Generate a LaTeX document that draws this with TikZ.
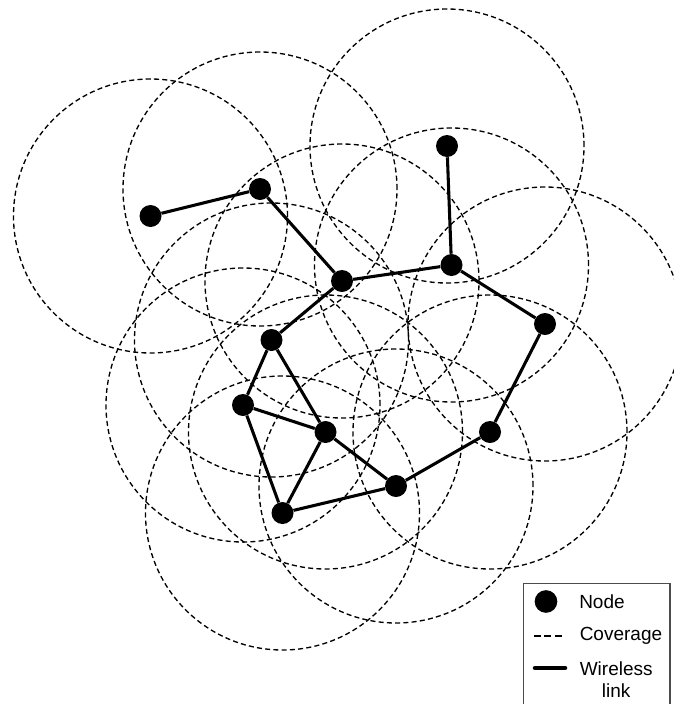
\documentclass[tikz,border=0pt]{standalone}
\usepackage{fontspec}
\setmainfont{Liberation Sans}
\usetikzlibrary{backgrounds}
\tikzset{
  dot/.style={circle,fill=black,draw=none,inner sep=0pt,minimum size=16.5pt},
  cov/.style={draw=black,line width=1pt,dash pattern=on 3.8pt off 2.4pt},
  wlink/.style={draw=black,line width=2.3pt},
  legtext/.style={anchor=west,inner sep=0pt,font=\fontsize{14.25}{17}\selectfont},
}
\begin{document}
\begin{tikzpicture}[x=0.75pt,y=-0.75pt]
\useasboundingbox (0,0) rectangle (674,704);
% nodes
\node[dot] (n1) at (150.5,216) {};
\node[dot] (n2) at (260,189) {};
\node[dot] (n3) at (447,146) {};
\node[dot] (n4) at (342,281) {};
\node[dot] (n5) at (451.5,265) {};
\node[dot] (n6) at (545,324) {};
\node[dot] (n7) at (271.5,340) {};
\node[dot] (n8) at (243,405) {};
\node[dot] (n9) at (325.5,432) {};
\node[dot] (n10) at (490,432) {};
\node[dot] (n11) at (396,486) {};
\node[dot] (n12) at (282.5,513) {};
\begin{scope}[on background layer]
  \fill[white] (0,0) rectangle (674,704);
  \foreach \n in {n1,n2,n3,n4,n5,n6,n7,n8,n9,n10,n11,n12}
    \draw[cov] (\n.center) circle[radius=102.75pt];
  \draw[wlink] (n1) -- (n2);
  \draw[wlink] (n2) -- (n4);
  \draw[wlink] (n3) -- (n5);
  \draw[wlink] (n4) -- (n5);
  \draw[wlink] (n5) -- (n6);
  \draw[wlink] (n4) -- (n7);
  \draw[wlink] (n7) -- (n8);
  \draw[wlink] (n7) -- (n9);
  \draw[wlink] (n8) -- (n9);
  \draw[wlink] (n8) -- (n12);
  \draw[wlink] (n9) -- (n12);
  \draw[wlink] (n9) -- (n11);
  \draw[wlink] (n11) -- (n12);
  \draw[wlink] (n11) -- (n10);
  \draw[wlink] (n10) -- (n6);
\end{scope}
% legend
\fill[white] (523.5,583.5) rectangle (670,704);
\draw[black!70,line width=0.8pt] (523.5,704) -- (523.5,583.5) -- (670,583.5) -- (670,704);
\node[dot,minimum size=17pt] (lgnode) at (546,601.5) {};
\node[legtext] (lgnodet) at (579,601.5) {Node};
\coordinate (lgc1) at (534,636);
\coordinate (lgc2) at (562,636);
\draw[draw=black,line width=1pt,dash pattern=on 5.2pt off 2.6pt] (lgc1) -- (lgc2);
\node[legtext] (lgcovt) at (579.5,636) {Coverage};
\coordinate (lgw1) at (535,668);
\coordinate (lgw2) at (565,668);
\draw[black,line width=3.4pt,line cap=round] (lgw1) -- (lgw2);
\node[legtext,align=center,anchor=north west] (lgwt) at (579.5,661) {Wireless\\link};
\end{tikzpicture}
\end{document}
